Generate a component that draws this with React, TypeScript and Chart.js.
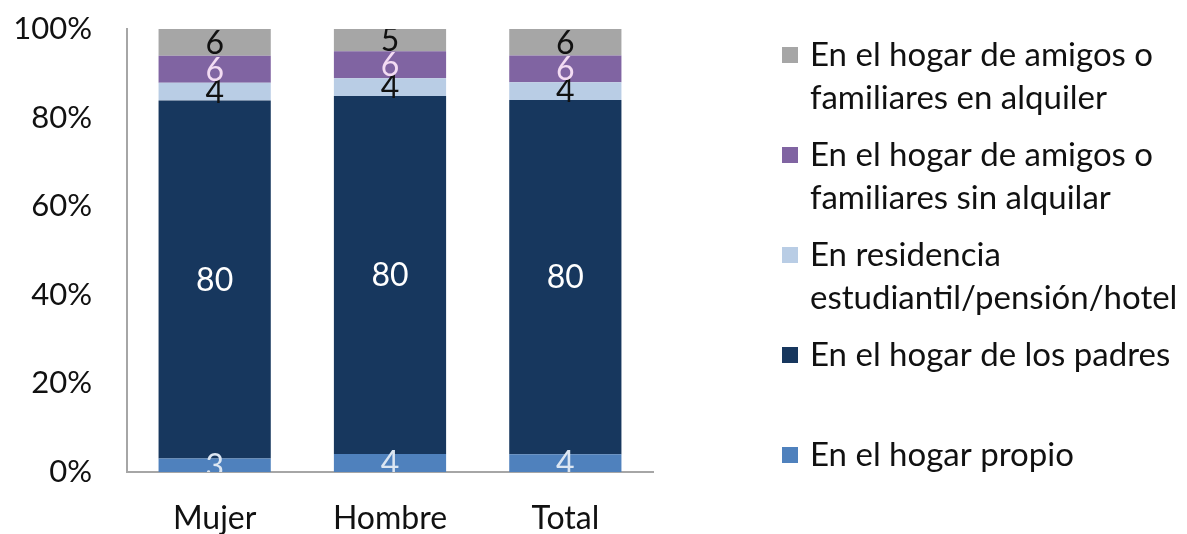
import React, { useEffect, useRef } from "react";
import { Chart, registerables } from "chart.js";

Chart.register(...registerables);

const categories = ["Mujer", "Hombre", "Total"];
const seriesNames = [
  "En el hogar propio",
  "En el hogar de los padres",
  "En residencia\nestudiantil/pensión/hotel",
  "En el hogar de amigos o\nfamiliares sin alquilar",
  "En el hogar de amigos o\nfamiliares en alquiler",
];
const hogarPropio = [3, 4, 4];
const hogarPadres = [80, 80, 80];
const residencia = [4, 4, 4];
const amigosSinAlquilar = [6, 6, 6];
const amigosEnAlquiler = [6, 5, 6];
const yTicks = [0, 20, 40, 60, 80, 100];

const seriesValues = [hogarPropio, hogarPadres, residencia, amigosSinAlquilar, amigosEnAlquiler];
const barColors = ["#4f81bd", "#17375e", "#b9cde5", "#8064a2", "#a6a6a6"];
const valueLabelColors = ["#dce6f2", "#ffffff", "#111111", "#f3dcf3", "#111111"];

const FONT = "Lato, 'Open Sans', sans-serif";
const TEXT = "#111111";

const totals = categories.map((_, i) => seriesValues.reduce((s, arr) => s + arr[i], 0));

const valueLabelPlugin = {
  id: "valueLabels",
  afterDatasetsDraw(chart: any) {
    const { ctx, chartArea } = chart;
    ctx.save();
    ctx.beginPath();
    ctx.rect(chartArea.left, chartArea.top, chartArea.right - chartArea.left, chartArea.bottom - chartArea.top);
    ctx.clip();
    ctx.font = `32px ${FONT}`;
    ctx.textAlign = "center";
    ctx.textBaseline = "middle";
    chart.data.datasets.forEach((ds: any, di: number) => {
      const meta = chart.getDatasetMeta(di);
      meta.data.forEach((el: any, i: number) => {
        const raw = seriesValues[di][i];
        const y = (el.y + el.base) / 2;
        ctx.fillStyle = valueLabelColors[di];
        ctx.fillText(String(raw), el.x, y + 1);
      });
    });
    ctx.restore();
  },
};

const legendPlugin = {
  id: "sideLegend",
  afterDraw(chart: any) {
    const { ctx } = chart;
    ctx.save();
    ctx.font = `33px ${FONT}`;
    ctx.textAlign = "left";
    ctx.textBaseline = "middle";
    const n = chart.data.datasets.length;
    for (let k = 0; k < n; k++) {
      const di = n - 1 - k;
      const ds = chart.data.datasets[di];
      const lines = String(ds.label).split("\n");
      const y0 = 55 + 100 * k;
      ctx.fillStyle = ds.backgroundColor;
      ctx.fillRect(782, y0 - 8, 16, 16);
      ctx.fillStyle = TEXT;
      lines.forEach((line: string, li: number) => {
        ctx.fillText(line, 810, y0 + li * 43);
      });
    }
    ctx.restore();
  },
};

export default function App() {
  const canvasRef = useRef<HTMLCanvasElement | null>(null);

  useEffect(() => {
    if (!canvasRef.current) return;
    const chart = new Chart(canvasRef.current, {
      type: "bar",
      data: {
        labels: categories,
        datasets: seriesValues.map((vals, di) => ({
          label: seriesNames[di],
          data: vals.map((v, i) => (v / totals[i]) * 100),
          backgroundColor: barColors[di],
          borderWidth: 0,
          categoryPercentage: 1,
          barPercentage: 0.64,
        })),
      },
      options: {
        responsive: false,
        animation: false,
        layout: { padding: { left: 0, right: 534, top: 29, bottom: 0 } },
        plugins: {
          legend: { display: false },
          tooltip: { enabled: false },
        },
        scales: {
          x: {
            stacked: true,
            grid: { display: false, drawTicks: false },
            border: { display: true, color: "#a6a6a6", width: 2 },
            ticks: { color: TEXT, font: { family: FONT, size: 32 }, padding: 27 },
            afterFit: (s: any) => {
              s.height = 62;
            },
          },
          y: {
            stacked: true,
            min: 0,
            max: 100,
            grid: { display: false, drawTicks: false },
            border: { display: true, color: "#a6a6a6", width: 2 },
            afterBuildTicks: (s: any) => {
              s.ticks = yTicks.map((v) => ({ value: v }));
            },
            ticks: {
              color: TEXT,
              font: { family: FONT, size: 31 },
              padding: 35,
              callback: (v: any) => `${v}%`,
            },
            afterFit: (s: any) => {
              s.width = 127;
              s.paddingTop = 0;
              s.paddingBottom = 0;
            },
          },
        },
      },
      plugins: [valueLabelPlugin, legendPlugin],
    });
    return () => chart.destroy();
  }, []);

  return (
    <div style={{ position: "absolute", left: 0, top: 0, width: 1187, height: 534, background: "#fff" }}>
      <canvas ref={canvasRef} width={1187} height={534} />
    </div>
  );
}
